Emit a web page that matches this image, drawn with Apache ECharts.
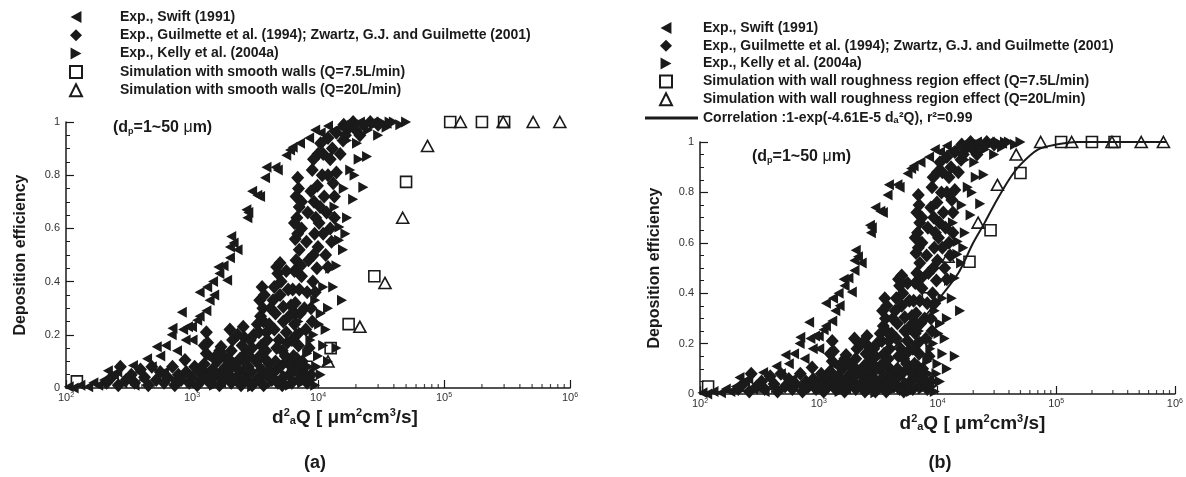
<!DOCTYPE html>
<html><head><meta charset="utf-8">
<script src="https://cdn.jsdelivr.net/npm/echarts@6/dist/echarts.min.js"></script>
<style>html,body{margin:0;padding:0;background:#fff}#c{width:1186px;height:477px}</style>
</head><body><div id="c"></div>
<script>
// ---------------- DATA ----------------
// x = d_a^2 Q [um^2 cm^3/s], y = deposition efficiency
const swift = [
  [105,0.005],[115,0.0],[130,0.01],[150,0.005],[165,0.02],[180,0.01],[200,0.03],[215,0.065],[240,0.05],[255,0.06],
  [280,0.02],[300,0.04],[340,0.085],[350,0.01],[380,0.06],[410,0.03],[440,0.11],[480,0.08],[525,0.155],[560,0.12],
  [600,0.06],[620,0.16],[690,0.2],[700,0.225],[700,0.03],[760,0.14],[830,0.285],[850,0.22],[890,0.18],[900,0.05],
  [930,0.23],[1000,0.23],[1010,0.18],[1100,0.255],[1150,0.36],[1150,0.27],[1200,0.08],[1300,0.29],[1320,0.38],[1380,0.33],
  [1400,0.11],[1470,0.4],[1500,0.35],[1620,0.455],[1650,0.43],[1700,0.02],[1780,0.46],[1900,0.405],[2000,0.49],[2000,0.53],
  [2050,0.57],[2140,0.545],[2300,0.52],[2700,0.67],[2750,0.64],[2800,0.66],[3000,0.74],[3300,0.725],[3470,0.72],[3800,0.79],
  [3900,0.83],[4600,0.83],[4800,0.82],[5600,0.875],[6000,0.895],[6300,0.905],[7200,0.92],[8500,0.94],[10500,0.96],[13000,0.965],
  [15000,0.98],[17000,0.995],[21500,1.0],[27500,1.0],[35000,0.995],[9500,0.97],[12000,0.985],[19000,0.99]
];
const guilmette = [
  [210,0.02],[230,0.04],[260,0.01],[270,0.08],[300,0.03],[330,0.05],[350,0.02],[390,0.07],[420,0.04],[450,0.01],
  [480,0.08],[520,0.03],[560,0.06],[600,0.02],[640,0.04],[700,0.08],[730,0.01],[780,0.05],[820,0.03],[880,0.105],
  [900,0.06],[950,0.02],[1000,0.04],[1050,0.08],[1100,0.01],[1150,0.06],[1200,0.03],[1250,0.09],[1300,0.05],[1380,0.02],
  [1450,0.07],[1500,0.04],[1580,0.1],[1650,0.01],[1700,0.06],[1780,0.03],[1850,0.08],[1950,0.05],[2050,0.02],[2150,0.09],
  [2250,0.04],[2350,0.07],[2450,0.01],[2550,0.05],[2700,0.03],[2800,0.08],[2950,0.06],[3100,0.02],[3250,0.1],[3400,0.04],
  [3550,0.07],[3700,0.01],[3900,0.05],[4100,0.09],[4300,0.03],[4500,0.06],[4800,0.02],[5000,0.08],[5300,0.04],[5600,0.1],
  [5900,0.05],[6200,0.02],[6600,0.07],[7000,0.03],[7600,0.06],[8200,0.02],[8800,0.05],[2000,0.07],[2600,0.1],[3000,0.01],
  [3800,0.11],[4600,0.1],[5200,0.01],[6000,0.09],[6800,0.11],[7300,0.08],
  [1300,0.21],[1330,0.17],[1300,0.13],[1660,0.14],[1700,0.155],[1780,0.12],[1550,0.12],[1250,0.16],
  [2000,0.22],[2100,0.18],[2050,0.14],[1950,0.11],[2550,0.23],[2600,0.19],[2500,0.16],[2650,0.13],[2400,0.11],[2300,0.2],
  [2900,0.18],[3000,0.15],[2850,0.12],[3100,0.2],
  [3450,0.33],[3600,0.38],[3500,0.27],[3400,0.21],[3550,0.16],[3450,0.12],[3700,0.25],[3650,0.3],[3300,0.24],[3750,0.35],
  [3900,0.21],[3950,0.18],[3850,0.14],[4100,0.24],[4200,0.3],
  [4700,0.455],[5000,0.47],[4800,0.43],[5600,0.44],[5100,0.40],[5300,0.305],[5600,0.21],[5300,0.25],[5000,0.35],[4600,0.28],
  [4900,0.18],[5200,0.14],[5500,0.12],[4500,0.38],[4400,0.33],[4500,0.22],[5800,0.37],[5900,0.27],[4700,0.15],[5700,0.17],
  [6300,0.37],[6100,0.31],[6600,0.28],[7200,0.28],[6500,0.24],[6800,0.2],[7000,0.16],[6400,0.12],[7500,0.1],[6200,0.18],
  [6600,0.32],[7100,0.37],[7400,0.42],[6700,0.48],[7100,0.52],[6600,0.56],[7400,0.6],[6800,0.64],[7100,0.68],[6700,0.72],[7000,0.75],
  [6500,0.44],[7300,0.46],[6900,0.58],[6500,0.62],[7400,0.7],[6900,0.79],
  [8000,0.22],[8500,0.15],[7800,0.3],[9000,0.25],[8200,0.36],[8400,0.48],[8100,0.55],[8300,0.66],
  [8800,0.3],[9500,0.36],[9100,0.4],[9800,0.45],[9200,0.5],[10000,0.53],[9400,0.58],[10200,0.62],[9300,0.7],[9900,0.76],
  [9000,0.82],[10000,0.88],[10500,0.92],[9600,0.64],[10400,0.68],[9200,0.86],[10800,0.8],[8800,0.74],
  [12000,0.455],[11500,0.5],[12800,0.55],[12500,0.6],[11700,0.66],[13500,0.72],[13200,0.77],[14000,0.81],[12500,0.86],[13000,0.9],
  [12000,0.94],[15800,0.93],[14000,0.96],[17800,0.98],[16000,0.99],[19000,1.0],[20000,0.97],[23000,0.99],[26000,1.0],[30000,0.99],
  [11200,0.72],[12000,0.8],[11000,0.88],[15000,0.88],[16500,0.95],[21500,0.95],[11000,0.58],[13500,0.64]
];
const kelly = [
  [1500,0.01],[2200,0.02],[3000,0.005],[3500,0.03],[4000,0.01],[4500,0.04],[5000,0.02],[5500,0.05],[6000,0.01],[6500,0.03],
  [7000,0.06],[7500,0.02],[8000,0.04],[8500,0.08],[9000,0.03],[10000,0.12],[12000,0.1],[14000,0.15],[2600,0.04],[4200,0.07],
  [6200,0.08],[9500,0.01],[10500,0.05],[11000,0.16],[9200,0.2],[10200,0.24],
  [7600,0.21],[7000,0.25],[8200,0.13],[9800,0.08],[8700,0.18],[10500,0.28],[9500,0.33],[11500,0.22],[11000,0.38],[13200,0.38],
  [15500,0.33],[12500,0.45],[15800,0.52],[14700,0.555],[14800,0.605],[13500,0.68],[17000,0.64],[19000,0.71],[16000,0.75],[22900,0.755],
  [18000,0.82],[21000,0.86],[24500,0.87],[20400,0.92],[17000,0.93],[25000,0.97],[30000,0.95],[28000,0.99],[32000,1.0],[35000,0.98],
  [37000,1.0],[40000,1.0],[45000,0.99],[50000,1.0],[12000,0.3],[14000,0.46],[16500,0.58],[19500,0.8]
];
// Panel (a): simulation with smooth walls
const smoothQ75 = [[122,0.025],[8100,0.08],[12600,0.15],[17500,0.24],[28000,0.42],[50000,0.775],[112000,1.0],[200000,1.0],[300000,1.0]];
const smoothQ20 = [[325,0.04],[8000,0.05],[12000,0.10],[21500,0.23],[34000,0.395],[47000,0.64],[74000,0.91],[135000,1.0],[295000,1.0],[510000,1.0],[830000,1.0]];
// Panel (b): simulation with wall roughness region effect
const roughQ75 = [[117,0.03],[8300,0.38],[18600,0.525],[28000,0.65],[50000,0.877],[110000,1.0],[200000,1.0],[310000,1.0]];
const roughQ20 = [[325,0.03],[12300,0.545],[22000,0.68],[32000,0.83],[46000,0.95],[74000,1.0],[135000,1.0],[295000,1.0],[520000,1.0],[800000,1.0]];
// Correlation curve
const correlation = [[100,0.005],[300,0.015],[1000,0.045],[2000,0.09],[3000,0.13],[5000,0.21],[7000,0.28],[10000,0.37],[15000,0.48],[20000,0.6],
  [25000,0.68],[30000,0.75],[40000,0.85],[50000,0.91],[70000,0.97],[100000,0.99],[150000,1.0],[300000,1.0],[850000,1.0]];
// log-axis minor tick positions
const xMinorTicks = [200,300,400,500,600,700,800,900,2000,3000,4000,5000,6000,7000,8000,9000,
  20000,30000,40000,50000,60000,70000,80000,90000,200000,300000,400000,500000,600000,700000,800000,900000];

const legendA = ['Exp., Swift (1991)','Exp., Guilmette et al. (1994); Zwartz, G.J. and Guilmette (2001)','Exp., Kelly et al. (2004a)',
  'Simulation with smooth walls (Q=7.5L/min)','Simulation with smooth walls (Q=20L/min)'];
const legendB = ['Exp., Swift (1991)','Exp., Guilmette et al. (1994); Zwartz, G.J. and Guilmette (2001)','Exp., Kelly et al. (2004a)',
  'Simulation with wall roughness region effect (Q=7.5L/min)','Simulation with wall roughness region effect (Q=20L/min)'];
const correlationName = 'Correlation :1-exp(-4.61E-5 d\u2090\u00B2Q), r\u00B2=0.99';

// ---------------- CHART ----------------
const FONT = '"Liberation Sans", Arial, Helvetica, sans-serif';
const INK = '#1a1a1a';
const LEFT_TRI = 'path://M10,0L10,11L0,5.5Z';
const RIGHT_TRI = 'path://M0,0L0,11L10,5.5Z';
const TRI_SIZE = [10, 11];
const DIA_SIZE = [13, 14];

const chart = echarts.init(document.getElementById('c'), null, {renderer: 'canvas'});

function xAxisFor(gi, shift) {
  return {
    type: 'log', logBase: 10, min: 100, max: 1000000, gridIndex: gi,
    axisLine: {show: true, lineStyle: {color: INK, width: 1.5}},
    axisTick: {show: true, inside: true, length: 8, lineStyle: {color: INK, width: 1.2}},
    splitLine: {show: false},
    axisLabel: {
      margin: 4,
      formatter: v => '{a|10}{s|' + Math.round(Math.log10(v)) + '}',
      rich: {
        a: {fontSize: 11, color: '#333', fontFamily: FONT},
        s: {fontSize: 7, color: '#333', fontFamily: FONT, verticalAlign: 'top'}
      }
    },
    name: '{n|d}{sup|2}{sub|a}{n|Q [ }{n|\u03BC}{n|m}{sup|2}{n|cm}{sup|3}{n|/s]}',
    nameLocation: 'middle', nameGap: 18,
    nameTextStyle: {
      padding: [0, 0, 0, shift],
      rich: {
        n: {fontSize: 19, fontWeight: 'bold', color: INK, fontFamily: FONT},
        sup: {fontSize: 11, fontWeight: 'bold', color: INK, fontFamily: FONT, verticalAlign: 'top'},
        sub: {fontSize: 11, fontWeight: 'bold', color: INK, fontFamily: FONT, verticalAlign: 'bottom'}
      }
    }
  };
}
function yAxisFor(gi) {
  return {
    type: 'value', min: 0, max: 1, interval: 0.2, gridIndex: gi,
    axisLine: {show: true, lineStyle: {color: INK, width: 1.5}},
    axisTick: {show: true, inside: true, length: 8, lineStyle: {color: INK, width: 1.2}},
    minorTick: {show: true, splitNumber: 4, length: 4, lineStyle: {color: INK, width: 1}},
    splitLine: {show: false},
    axisLabel: {fontSize: 11, color: '#333', fontFamily: FONT, margin: 6},
    name: 'Deposition efficiency', nameLocation: 'middle', nameGap: 37,
    nameTextStyle: {fontSize: 16, fontWeight: 'bold', color: INK, fontFamily: FONT}
  };
}
function filled(name, data, gi, symbol, size) {
  return {type: 'scatter', name, data, xAxisIndex: gi, yAxisIndex: gi, symbol, symbolSize: size,
    itemStyle: {color: INK, opacity: 1}, clip: false, z: 3};
}
function hollow(name, data, gi, symbol, size) {
  return {type: 'scatter', name, data, xAxisIndex: gi, yAxisIndex: gi, symbol, symbolSize: size,
    itemStyle: {color: 'rgba(255,255,255,0)', borderColor: INK, borderWidth: 1.6, opacity: 1}, clip: false, z: 5};
}
function minorTicks(gi) {
  return {type: 'scatter', name: '_minor' + gi, data: xMinorTicks.map(v => [v, 0]), xAxisIndex: gi, yAxisIndex: gi,
    symbol: 'rect', symbolSize: [1.2, 4], symbolOffset: [0, -2], itemStyle: {color: INK}, silent: true, clip: false, z: 2};
}
const legendText = {fontFamily: FONT, fontWeight: 'bold', fontSize: 14, color: INK, lineHeight: 14};
const dpText = {
  text: '{n|(d}{sub|p}{n|=1~50 }{g|\u03BC}{n|m)}', verticalAlign: 'middle',
  rich: {n: {fontSize: 16, fontWeight: 'bold', fill: INK, fontFamily: FONT},
         g: {fontSize: 16, fill: INK, fontFamily: FONT},
         sub: {fontSize: 9, fontWeight: 'bold', fill: INK, fontFamily: FONT, verticalAlign: 'bottom'}}
};

const option = {
  animation: false,
  backgroundColor: '#fff',
  grid: [
    {left: 66, top: 122, width: 504, height: 266, containLabel: false},
    {left: 700, top: 142, width: 475, height: 252, containLabel: false}
  ],
  xAxis: [xAxisFor(0, 54), xAxisFor(1, 70)],
  yAxis: [yAxisFor(0), yAxisFor(1)],
  legend: [
    {orient: 'vertical', left: 64, top: 5, itemWidth: 12, itemHeight: 12, itemGap: 4.3, selectedMode: false,
      textStyle: Object.assign({padding: [0, 0, 0, 33]}, legendText), data: legendA},
    {orient: 'vertical', left: 654, top: 16, itemWidth: 12, itemHeight: 12, itemGap: 3.8, selectedMode: false,
      textStyle: Object.assign({padding: [0, 0, 0, 26]}, legendText), data: legendB},
    {orient: 'vertical', left: 640, top: 106, itemWidth: 53, itemHeight: 3, selectedMode: false,
      textStyle: Object.assign({padding: [0, 0, 0, 0]}, legendText), data: [{name: correlationName, icon: 'rect'}]}
  ],
  graphic: [
    {type: 'text', x: 113, y: 128, style: dpText},
    {type: 'text', x: 752, y: 157, style: dpText},
    {type: 'text', x: 315, y: 463, style: {text: '(a)', align: 'center', verticalAlign: 'middle',
      font: 'bold 18px "Liberation Sans", Arial, sans-serif', fill: INK}},
    {type: 'text', x: 940, y: 463, style: {text: '(b)', align: 'center', verticalAlign: 'middle',
      font: 'bold 18px "Liberation Sans", Arial, sans-serif', fill: INK}}
  ],
  series: [
    minorTicks(0),
    filled(legendA[1], guilmette, 0, 'diamond', DIA_SIZE),
    filled(legendA[2], kelly, 0, RIGHT_TRI, TRI_SIZE),
    filled(legendA[0], swift, 0, LEFT_TRI, TRI_SIZE),
    hollow(legendA[3], smoothQ75, 0, 'rect', 11),
    hollow(legendA[4], smoothQ20, 0, 'triangle', [12, 11]),
    minorTicks(1),
    filled(legendB[1], guilmette, 1, 'diamond', DIA_SIZE),
    filled(legendB[2], kelly, 1, RIGHT_TRI, TRI_SIZE),
    filled(legendB[0], swift, 1, LEFT_TRI, TRI_SIZE),
    {type: 'line', name: correlationName, data: correlation, xAxisIndex: 1, yAxisIndex: 1, smooth: 0.3,
      symbol: 'none', showSymbol: false, lineStyle: {color: INK, width: 2}, itemStyle: {color: INK}, z: 4},
    hollow(legendB[3], roughQ75, 1, 'rect', 11),
    hollow(legendB[4], roughQ20, 1, 'triangle', [12, 11])
  ]
};
chart.setOption(option);
</script></body></html>
